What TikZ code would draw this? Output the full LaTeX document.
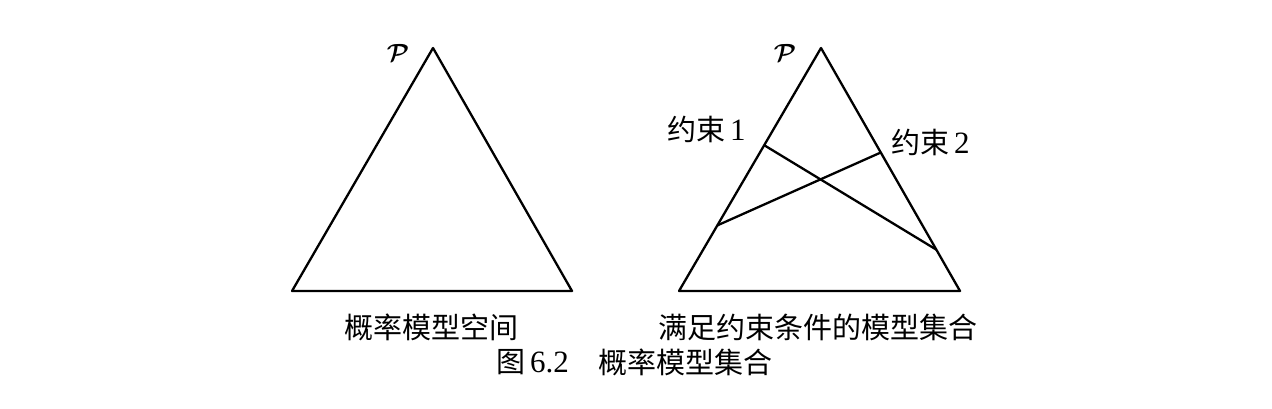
\documentclass[tikz,border=0pt]{standalone}
\usepackage{fontspec}
\setmainfont{Liberation Serif}
\newfontfamily\cjk{Noto Sans CJK SC}
\usetikzlibrary{calc}
\tikzset{
  edge/.style={line width=2.3pt, line join=round},
  lbl/.style={inner sep=0pt, font=\cjk\fontsize{29}{32}\selectfont},
  pl/.style={inner sep=0pt, font=\fontsize{33}{36}\selectfont\boldmath}
}
\begin{document}
\begin{tikzpicture}[x=1pt,y=-1pt]
\useasboundingbox (0,0) rectangle (1272,408);
% left triangle
\coordinate (LA) at (433,48);
\coordinate (LB) at (292,291);
\coordinate (LC) at (572,291);
\draw[edge] (LA) -- (LB) -- (LC) -- cycle;
% right triangle
\coordinate (RA) at (821,48);
\coordinate (RB) at (679,291);
\coordinate (RC) at (960,291);
\draw[edge] (RA) -- (RB) -- (RC) -- cycle;
% constraints
\coordinate (c1a) at ($(RA)!0.40!(RB)$);
\coordinate (c1b) at ($(RA)!0.83!(RC)$);
\coordinate (c2a) at ($(RA)!0.73!(RB)$);
\coordinate (c2b) at ($(RA)!0.43!(RC)$);
\draw[edge] (c1a) -- (c1b);
\draw[edge] (c2a) -- (c2b);
% labels
\node[pl] (p1) at (398,53) {$\mathcal{P}$};
\node[pl] (p2) at (785,53) {$\mathcal{P}$};
\node[lbl, anchor=west] (k1) at (667,129) {约束\,{\rmfamily\fontsize{31}{32}\selectfont 1}};
\node[lbl, anchor=west] (k2) at (891,142) {约束\,{\rmfamily\fontsize{31}{32}\selectfont 2}};
\node[lbl] (t1) at (431,327) {概率模型空间};
\node[lbl] (t2) at (818,327) {满足约束条件的模型集合};
\node[lbl, anchor=west] (cap1) at (496,362) {图\,{\rmfamily\fontsize{31}{32}\selectfont 6.2}};
\node[lbl, anchor=west] (cap2) at (598,362) {概率模型集合};
\end{tikzpicture}
\end{document}
